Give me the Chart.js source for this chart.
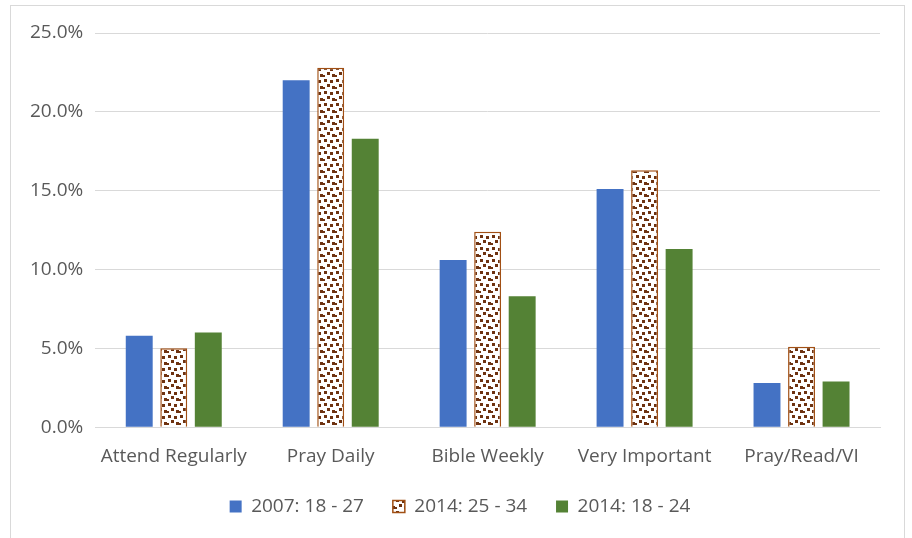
<!DOCTYPE html>
<html>
<head>
<meta charset="utf-8">
<script src="https://cdn.jsdelivr.net/npm/chart.js@4.4.0/dist/chart.umd.min.js"></script>
<style>
  body { margin: 0; background: #fff; overflow: hidden; }
  #box { position: absolute; left: 10px; top: 5px; width: 895px; height: 545px; border: 1px solid #d9d9d9; box-sizing: border-box; }
</style>
</head>
<body>
<div id="box"><canvas id="chart" width="893" height="533"></canvas></div>
<script>
var categories = ["Attend Regularly", "Pray Daily", "Bible Weekly", "Very Important", "Pray/Read/VI"];
var series2007_18_27 = [5.8, 22.0, 10.6, 15.1, 2.8];
var series2014_25_34 = [5.0, 22.8, 12.4, 16.3, 5.1];
var series2014_18_24 = [6.0, 18.3, 8.3, 11.3, 2.9];
var seriesNames = ["2007: 18 - 27", "2014: 25 - 34", "2014: 18 - 24"];

function makeDots() {
	var c = document.createElement('canvas');
	c.width = 12; c.height = 12;
	var g = c.getContext('2d');
	g.fillStyle = '#ffffff';
	g.fillRect(0, 0, 12, 12);
	g.fillStyle = '#6e3210';
	g.fillRect(1, 1, 3, 3);
	g.fillRect(7, 2, 3, 3);
	g.fillRect(4, 6, 3, 3);
	g.fillRect(9, 8, 3, 3);
	g.fillRect(0, 9, 2, 2);
	return g.createPattern(c, 'repeat');
}

var dots = makeDots();
var textColor = '#595959';
var font = { family: "'Open Sans', 'Liberation Sans', sans-serif", size: 19 };

// nudge the legend right, the trailing spaces pull it off centre
var legendShift = {
	id: 'legendShift',
	afterLayout: function (chart) {
		chart.legend.left += 11;
		chart.legend.right += 11;
	}
};

new Chart(document.getElementById('chart'), {
	type: 'bar',
	data: {
		labels: categories,
		datasets: [{
			label: seriesNames[0],
			data: series2007_18_27,
			backgroundColor: '#4472c4',
			borderWidth: 0
		}, {
			label: seriesNames[1],
			data: series2014_25_34,
			backgroundColor: dots,
			borderColor: '#a14f14',
			borderWidth: 1.5
		}, {
			label: seriesNames[2],
			data: series2014_18_24,
			backgroundColor: '#548235',
			borderWidth: 0
		}]
	},
	options: {
		responsive: false,
		animation: false,
		categoryPercentage: 0.66,
		barPercentage: 0.78,
		layout: { padding: { left: 7, right: 24, top: 27, bottom: 13 } },
		plugins: {
			legend: {
				position: 'bottom',
				labels: {
					color: textColor, font: font, boxWidth: 12, boxHeight: 12, padding: 19,
					generateLabels: function (chart) {
						var items = Chart.defaults.plugins.legend.labels.generateLabels(chart);
						// extra room between legend entries, like the original
						items.forEach(function (it, i) {
							if (i < items.length - 1) it.text = it.text + '  ';
						});
						return items;
					}
				}
			},
			tooltip: { enabled: false }
		},
		scales: {
			x: {
				grid: { display: false },
				border: { color: '#d9d9d9' },
				ticks: { color: textColor, font: font, padding: 10 }
			},
			y: {
				min: 0,
				max: 25,
				border: { display: false },
				grid: { color: '#d9d9d9', drawTicks: false },
				ticks: {
					stepSize: 5,
					color: textColor,
					font: font,
					padding: 12,
					callback: function (v) { return v.toFixed(1) + '%'; }
				}
			}
		}
	},
	plugins: [legendShift]
});
</script>
</body>
</html>
